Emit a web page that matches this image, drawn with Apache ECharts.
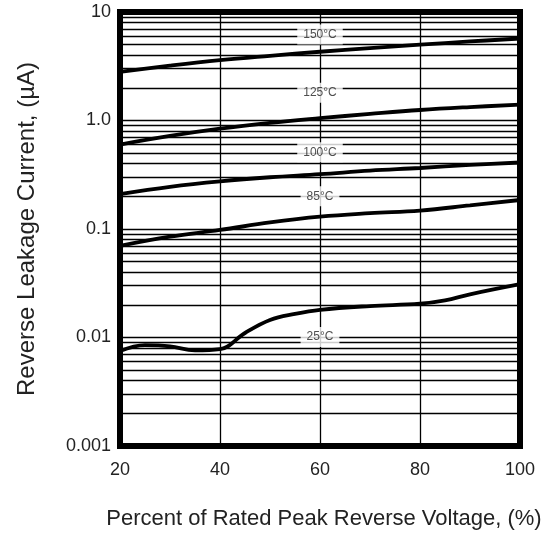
<!DOCTYPE html>
<html>
<head>
<meta charset="utf-8">
<script src="https://cdn.jsdelivr.net/npm/echarts@6/dist/echarts.min.js"></script>
<style>html,body{margin:0;padding:0;background:#fff;}#c{width:556px;height:535px;}</style>
</head>
<body>
<div id="c"></div>
<script>
// Data
var xVals150 = [20, 30, 40, 50, 60, 70, 80, 90, 100];
var curve150 = [2.8, 3.2, 3.6, 3.95, 4.3, 4.65, 5.0, 5.35, 5.7];
var curve125 = [0.6, 0.72, 0.84, 0.95, 1.05, 1.15, 1.25, 1.33, 1.4];
var curve100 = [0.21, 0.245, 0.275, 0.30, 0.32, 0.345, 0.365, 0.39, 0.41];
var curve85 = [0.07, 0.085, 0.098, 0.115, 0.13, 0.14, 0.148, 0.165, 0.185];
var xVals25 = [20, 25, 30, 35, 40, 45, 50, 55, 60, 70, 80, 85, 90, 100];
var curve25 = [0.0075, 0.0085, 0.0083, 0.0076, 0.0078, 0.011, 0.0145, 0.0165, 0.018, 0.0195, 0.0205, 0.022, 0.025, 0.031];
var curveLabels = ['150°C', '125°C', '100°C', '85°C', '25°C'];
var labelX = [60, 60, 60, 60, 60];
var labelY = [6.2, 1.8, 0.51, 0.2, 0.0101];
var yTickLabels = ['0.001', '0.01', '0.1', '1.0', '10'];
var xTicks = [20, 40, 60, 80, 100];
var decades = [0.001, 0.01, 0.1, 1];
var minorMultipliers = [2, 3, 4, 5, 6, 7, 8, 9];
var xMin = 20, xMax = 100;

function pairs(xs, ys) { return xs.map(function (x, i) { return [x, ys[i]]; }); }

var minorLines = [];
decades.forEach(function (d) {
  minorMultipliers.forEach(function (m) {
    var v = +(d * m).toPrecision(3);
    minorLines.push([{ coord: [xMin, v] }, { coord: [xMax, v] }]);
  });
});

var curveStyle = { color: '#000', width: 3.8 };
function curve(name, data) {
  return {
    name: name, type: 'line', data: data, smooth: 0.4, showSymbol: false,
    lineStyle: curveStyle, itemStyle: { color: '#000' }, z: 3, silent: true, animation: false
  };
}

var txt = '#222';
var chart = echarts.init(document.getElementById('c'), null, { renderer: 'canvas' });
chart.setOption({
  animation: false,
  backgroundColor: '#fff',
  grid: { left: 120, right: 36, top: 12, bottom: 88, show: true, borderColor: '#000', borderWidth: 6, backgroundColor: '#fff' },
  xAxis: {
    type: 'value', min: xMin, max: xMax, interval: 20,
    name: 'Percent of Rated Peak Reverse Voltage, (%)', nameLocation: 'middle', nameGap: 62,
    nameTextStyle: { fontSize: 22, color: txt, fontFamily: 'Liberation Sans', padding: [0, 0, 0, 8] },
    axisLine: { show: false }, axisTick: { show: false },
    axisLabel: { fontSize: 18, color: txt, margin: 15, fontFamily: 'Liberation Sans',
      formatter: function (v) { return xTicks.indexOf(v) >= 0 ? String(v) : ''; } },
    splitLine: { show: true, lineStyle: { color: '#000', width: 1.3 } }
  },
  yAxis: {
    type: 'log', logBase: 10, min: 0.001, max: 10,
    name: 'Reverse Leakage Current, (µA)', nameLocation: 'middle', nameGap: 81,
    nameTextStyle: { fontSize: 24, color: txt, fontFamily: 'Liberation Sans' },
    axisLine: { show: false }, axisTick: { show: false },
    axisLabel: { fontSize: 18, color: txt, margin: 9, fontFamily: 'Liberation Sans',
      formatter: function (v) { var i = Math.round(Math.log10(v)) + 3; return yTickLabels[i] || ''; } },
    splitLine: { show: true, lineStyle: { color: '#000', width: 1.3 } }
  },
  series: [
    {
      type: 'line', data: [], z: 1, silent: true,
      markLine: { silent: true, symbol: ['none', 'none'], label: { show: false }, animation: false,
        lineStyle: { color: '#000', width: 1.3, type: 'solid' }, data: minorLines }
    },
    curve('150', pairs(xVals150, curve150)),
    curve('125', pairs(xVals150, curve125)),
    curve('100', pairs(xVals150, curve100)),
    curve('85', pairs(xVals150, curve85)),
    curve('25', pairs(xVals25, curve25)),
    {
      type: 'scatter', z: 5, silent: true, symbolSize: 0,
      data: labelX.map(function (x, i) { return { value: [x, labelY[i]], name: curveLabels[i] }; }),
      label: { show: true, position: 'inside', formatter: '{b}', color: '#222', fontSize: 12,
        fontFamily: 'Liberation Sans', backgroundColor: '#fff', padding: [4, 6] }
    }
  ]
});
</script>
</body>
</html>
